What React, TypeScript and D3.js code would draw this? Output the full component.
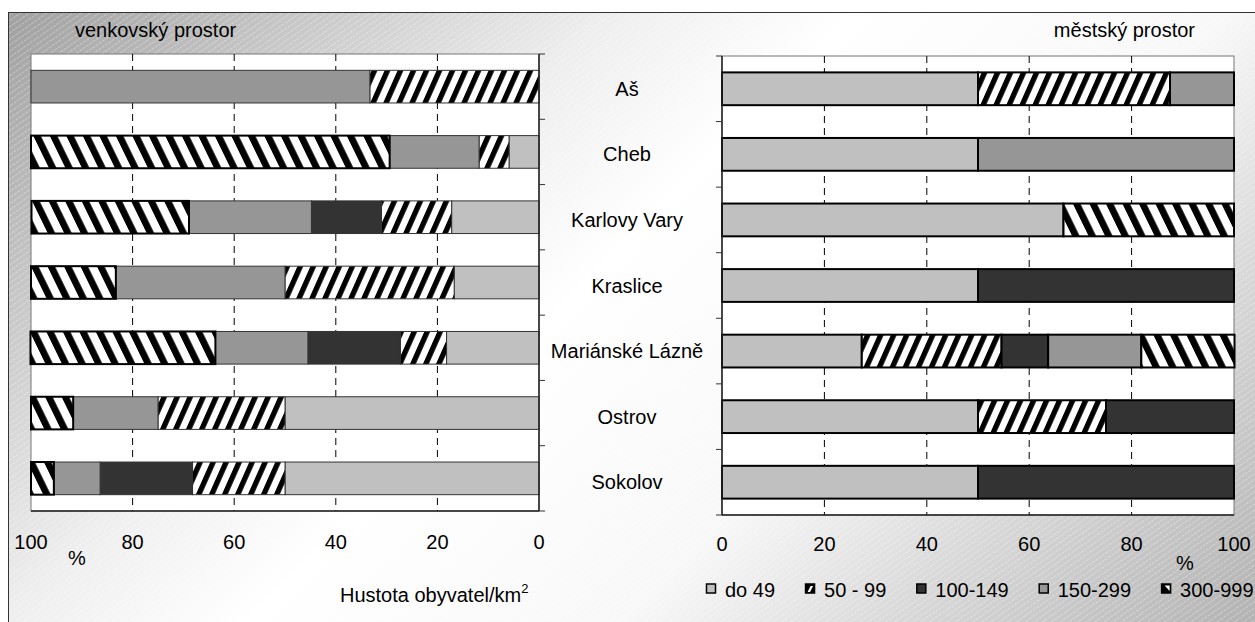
import * as d3 from "d3";

const categories = ["Aš", "Cheb", "Karlovy Vary", "Kraslice", "Mariánské Lázně", "Ostrov", "Sokolov"];
const seriesNames = ["do 49", "50 - 99", "100-149", "150-299", "300-999"];
const xTicks = [0, 20, 40, 60, 80, 100];

// venkovský prostor, % of municipalities per density class
const ruralDo49 = [0, 5.9, 17.2, 16.7, 18.2, 50, 50];
const rural50to99 = [33.3, 5.9, 13.8, 33.3, 9.1, 25, 18.2];
const rural100to149 = [0, 0, 13.8, 0, 18.2, 0, 18.2];
const rural150to299 = [66.7, 17.6, 24.1, 33.3, 18.2, 16.7, 9.1];
const rural300to999 = [0, 70.6, 31.0, 16.7, 36.4, 8.3, 4.5];

// městský prostor
const urbanDo49 = [50, 50, 66.7, 50, 27.3, 50, 50];
const urban50to99 = [37.5, 0, 0, 0, 27.3, 25, 0];
const urban100to149 = [0, 0, 0, 50, 9.1, 25, 50];
const urban150to299 = [12.5, 50, 0, 0, 18.2, 0, 0];
const urban300to999 = [0, 0, 33.3, 0, 18.2, 0, 0];

const FONT = "'Liberation Sans', Arial, sans-serif";
const fills = ["#c0c0c0", "url(#hatchFwd)", "#333333", "#969696", "url(#hatchBack)"];

const buildRows = (cols: number[][]) =>
  categories.map((c, i) => {
    const r: any = { category: c };
    seriesNames.forEach((s, j) => (r[s] = cols[j][i]));
    return r;
  });

const ruralRows = buildRows([ruralDo49, rural50to99, rural100to149, rural150to299, rural300to999]);
const urbanRows = buildRows([urbanDo49, urban50to99, urban100to149, urban150to299, urban300to999]);

type Box = { x0: number; x1: number; y0: number; y1: number };

const Panel = ({
  box,
  rows,
  reversed,
  labelY,
}: {
  box: Box;
  rows: any[];
  reversed: boolean;
  labelY: number;
}) => {
  const x = d3
    .scaleLinear()
    .domain(reversed ? [100, 0] : [0, 100])
    .range([box.x0, box.x1]);
  const y = d3
    .scaleBand()
    .domain(categories)
    .range([box.y0, box.y1])
    .paddingInner(0.5)
    .paddingOuter(0.25);
  const layers = d3.stack<any>().keys(seriesNames)(rows);
  const axisX = reversed ? box.x1 : box.x0;
  const tickLen = reversed ? 6 : -6;
  const bounds = d3.range(categories.length + 1).map((i) => box.y0 + i * y.step());

  return (
    <g>
      <rect
        x={box.x0}
        y={box.y0}
        width={box.x1 - box.x0}
        height={box.y1 - box.y0}
        fill="#fff"
        stroke="#777"
      />
      {xTicks
        .filter((t) => t > 0 && t < 100)
        .map((t) => (
          <line
            key={t}
            x1={x(t)}
            x2={x(t)}
            y1={box.y0}
            y2={box.y1}
            stroke="#000"
            strokeDasharray="7,5"
          />
        ))}
      {layers.map((layer, li) =>
        layer.map((d, i) => {
          const a = x(d[0]);
          const b = x(d[1]);
          if (Math.abs(b - a) < 0.01) return null;
          const thick = !reversed || seriesNames[li] === "300-999";
          return (
            <rect
              key={`${li}-${i}`}
              x={Math.min(a, b)}
              y={y(categories[i])!}
              width={Math.abs(b - a)}
              height={y.bandwidth()}
              fill={fills[li]}
              stroke={thick ? "#000" : "#333"}
              strokeWidth={thick ? 2 : 1}
            />
          );
        })
      )}
      <line x1={axisX} x2={axisX} y1={box.y0} y2={box.y1} stroke="#222" strokeWidth={1.5} />
      <line x1={box.x0} x2={box.x1} y1={box.y1} y2={box.y1} stroke="#222" strokeWidth={1.5} />
      {bounds.map((b, i) => (
        <line key={i} x1={axisX} x2={axisX + tickLen} y1={b} y2={b} stroke="#333" />
      ))}
      {xTicks.map((t) => (
        <text key={t} x={x(t)} y={labelY} textAnchor="middle" fontSize={20} fill="#000">
          {t}
        </text>
      ))}
    </g>
  );
};

const measure = (() => {
  const ctx = document.createElement("canvas").getContext("2d")!;
  ctx.font = "20px 'Liberation Sans'";
  return (s: string) => ctx.measureText(s).width;
})();

// small legend swatches drawn the way the old chart renders its pattern keys
const LegendKey = ({ x, y, index }: { x: number; y: number; index: number }) => {
  const s = 9;
  if (index === 1) {
    return (
      <g>
        <rect x={x} y={y} width={s} height={s} fill="#000" stroke="#000" strokeWidth={1.5} />
        <polygon
          points={`${x + 2},${y + s - 1} ${x + 4.5},${y + s - 1} ${x + s - 1.5},${y + 2} ${x + s - 4},${y + 2}`}
          fill="#fff"
        />
      </g>
    );
  }
  if (index === 4) {
    return (
      <g>
        <rect x={x} y={y} width={s} height={s} fill="#000" stroke="#000" strokeWidth={1.5} />
        <polygon points={`${x + 1.5},${y + 1.5} ${x + s - 1},${y + s - 1} ${x + 1.5},${y + s - 1}`} fill="#000" />
        <polygon points={`${x + 3},${y + 1.5} ${x + s - 1},${y + 1.5} ${x + s - 1},${y + s - 2}`} fill="#fff" />
      </g>
    );
  }
  return <rect x={x} y={y} width={s} height={s} fill={fills[index]} stroke="#000" strokeWidth={1.5} />;
};

const App = () => {
  const leftBox = { x0: 31, x1: 539, y0: 54, y1: 511 };
  const rightBox = { x0: 722, x1: 1234, y0: 56, y1: 515 };
  const yCat = d3
    .scaleBand()
    .domain(categories)
    .range([rightBox.y0, rightBox.y1])
    .paddingInner(0.5)
    .paddingOuter(0.25);

  // legend layout
  let lx = 706;
  const legendItems = seriesNames.map((s, i) => {
    const item = { name: s, x: lx, index: i };
    lx += 19 + measure(s) + 30;
    return item;
  });

  return (
    <svg
      width={1255}
      height={622}
      style={{ position: "absolute", left: 0, top: 0, fontFamily: FONT }}
    >
      <defs>
        <linearGradient id="bg" gradientUnits="userSpaceOnUse" x1={8} y1={12} x2={948} y2={952}>
          <stop offset="0" stopColor="#a0a0a0" />
          <stop offset="0.16" stopColor="#c8c8c8" />
          <stop offset="0.32" stopColor="#eeeeee" />
          <stop offset="0.45" stopColor="#ffffff" />
          <stop offset="0.65" stopColor="#f8f8f8" />
          <stop offset="0.78" stopColor="#dcdcdc" />
          <stop offset="0.9" stopColor="#c4c4c4" />
          <stop offset="1" stopColor="#b0b0b0" />
        </linearGradient>
        <pattern id="tex" patternUnits="userSpaceOnUse" width={8} height={5} patternTransform="rotate(-35)">
          <line x1={0} y1={2.5} x2={8} y2={2.5} stroke="#fff" strokeOpacity={0.4} strokeWidth={0.8} strokeDasharray="3,1" />
        </pattern>
        <pattern id="hatchFwd" patternUnits="userSpaceOnUse" width={13} height={10} patternTransform="skewX(-24)">
          <rect width={13} height={10} fill="#fff" />
          <rect width={5.8} height={10} fill="#000" />
        </pattern>
        <pattern id="hatchBack" patternUnits="userSpaceOnUse" width={16.5} height={10} patternTransform="skewX(26)">
          <rect width={16.5} height={10} fill="#fff" />
          <rect width={7.5} height={10} fill="#000" />
        </pattern>
      </defs>

      <rect x={8.5} y={12.5} width={1265} height={625} fill="url(#bg)" stroke="#333" />
      <rect x={9} y={13} width={1265} height={625} fill="url(#tex)" />

      <text x={75} y={37} fontSize={20}>venkovský prostor</text>
      <text x={1195} y={37} fontSize={20} textAnchor="end">městský prostor</text>

      <Panel box={leftBox} rows={ruralRows} reversed={true} labelY={549} />
      <Panel box={rightBox} rows={urbanRows} reversed={false} labelY={551} />

      {categories.map((c) => (
        <text
          key={c}
          x={627}
          y={yCat(c)! + yCat.bandwidth() / 2 + 7}
          textAnchor="middle"
          fontSize={20}
        >
          {c}
        </text>
      ))}

      <text x={68} y={565} fontSize={20}>%</text>
      <text x={1176} y={570} fontSize={20}>%</text>

      <text x={340} y={602} fontSize={20}>
        Hustota obyvatel/km
        <tspan fontSize={13} dy={-9}>2</tspan>
      </text>

      {legendItems.map((d) => (
        <g key={d.name}>
          <LegendKey x={d.x + 0.5} y={584} index={d.index} />
          <text x={d.x + 19} y={597} fontSize={20}>
            {d.name}
          </text>
        </g>
      ))}
    </svg>
  );
};

export default App;
